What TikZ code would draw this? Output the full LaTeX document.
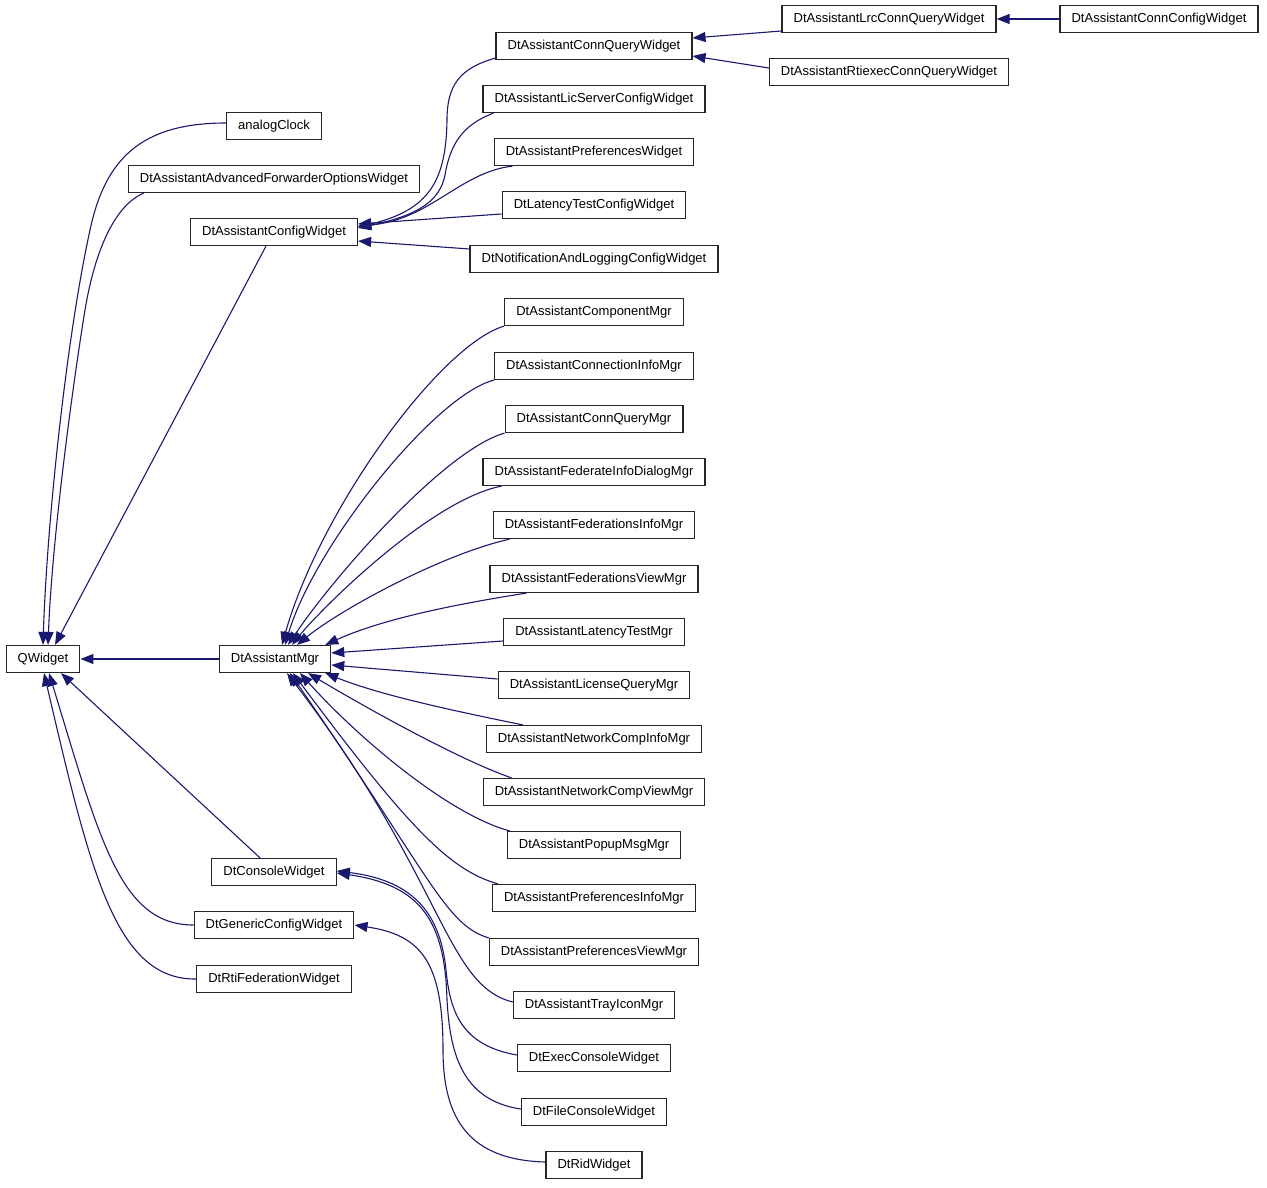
\documentclass[tikz,border=0pt]{standalone}
\usepackage{fontspec}
\setmainfont{Liberation Sans}
\usetikzlibrary{arrows.meta,calc}
\definecolor{edgeblue}{RGB}{25,25,112}
\tikzset{
   box/.style = {rectangle, draw=black!85, line width=0.6pt, fill=white,
      font=\fontsize{6.5}{8}\selectfont, inner xsep=5.8pt, inner ysep=0pt,
      minimum height=13.5pt, text height=4.8pt, text depth=1.4pt},
   arrow/.style = {-{Triangle[length=6.5pt,width=5pt]}, draw=edgeblue, line width=0.55pt},
}
\begin{document}
\begin{tikzpicture}[x=0.5pt,y=-0.5pt]
      \useasboundingbox (0,0) rectangle (1267,1187);

      % left column
      \node[box] (qwidget) at (43,659)  {QWidget};
      \node[box] (clock)   at (274,126) {analogClock};
      \node[box] (advfwd)  at (274,179) {DtAssistantAdvancedForwarderOptionsWidget};
      \node[box] (cfgw)    at (274,232) {DtAssistantConfigWidget};
      \node[box] (mgr)     at (275,659) {DtAssistantMgr};
      \node[box] (console) at (274,872) {DtConsoleWidget};
      \node[box] (generic) at (274,925) {DtGenericConfigWidget};
      \node[box] (rtifed)  at (274,979) {DtRtiFederationWidget};

      % right column
      \node[box] (connq)      at (594,46)   {DtAssistantConnQueryWidget};
      \node[box] (licsrv)     at (594,99)   {DtAssistantLicServerConfigWidget};
      \node[box] (prefw)      at (594,152)  {DtAssistantPreferencesWidget};
      \node[box] (latcfg)     at (594,205)  {DtLatencyTestConfigWidget};
      \node[box] (notif)      at (594,259)  {DtNotificationAndLoggingConfigWidget};
      \node[box] (compmgr)    at (594,312)  {DtAssistantComponentMgr};
      \node[box] (conninfo)   at (594,366)  {DtAssistantConnectionInfoMgr};
      \node[box] (connqmgr)   at (594,419)  {DtAssistantConnQueryMgr};
      \node[box] (fedinfodlg) at (594,472)  {DtAssistantFederateInfoDialogMgr};
      \node[box] (fedinfo)    at (594,525)  {DtAssistantFederationsInfoMgr};
      \node[box] (fedview)    at (594,579)  {DtAssistantFederationsViewMgr};
      \node[box] (latmgr)     at (594,632)  {DtAssistantLatencyTestMgr};
      \node[box] (licmgr)     at (594,685)  {DtAssistantLicenseQueryMgr};
      \node[box] (netinfo)    at (594,739)  {DtAssistantNetworkCompInfoMgr};
      \node[box] (netview)    at (594,792)  {DtAssistantNetworkCompViewMgr};
      \node[box] (popup)      at (594,845)  {DtAssistantPopupMsgMgr};
      \node[box] (prefinfo)   at (594,898)  {DtAssistantPreferencesInfoMgr};
      \node[box] (prefview)   at (594,952)  {DtAssistantPreferencesViewMgr};
      \node[box] (tray)       at (594,1005) {DtAssistantTrayIconMgr};
      \node[box] (execcon)    at (594,1058) {DtExecConsoleWidget};
      \node[box] (filecon)    at (594,1112) {DtFileConsoleWidget};
      \node[box] (rid)        at (594,1165) {DtRidWidget};

      % far right
      \node[box] (lrc)     at (889,19)  {DtAssistantLrcConnQueryWidget};
      \node[box] (rtiexec) at (889,72)  {DtAssistantRtiexecConnQueryWidget};
      \node[box] (conncfg) at (1159,19) {DtAssistantConnConfigWidget};

      % into QWidget
      \draw[arrow] ($(clock.west)+(0,-3)$) .. controls (140,123) and (105,160) .. (90,230)
                   .. controls (67,335) and (47,520) .. (qwidget.north);
      \draw[arrow] ($(advfwd.south west)+(16,0)$) .. controls (115,205) and (95,250) .. (85,310)
                   .. controls (72,390) and (52,540) .. ($(qwidget.north)+(5,0)$);
      \draw[arrow] ($(cfgw.south)+(-8,0)$) -- ($(qwidget.north)+(12,0)$);
      \draw[arrow] (mgr.west) -- (qwidget.east);
      \draw[arrow] ($(console.north)+(-14,0)$) -- ($(qwidget.south)+(18,0)$);
      \draw[arrow] (generic.west) .. controls (120,925) and (100,840) .. ($(qwidget.south)+(6,0)$);
      \draw[arrow] (rtifed.west) .. controls (115,980) and (90,870) .. ($(qwidget.south)+(1,0)$);

      % into DtAssistantConfigWidget
      \draw[arrow] ($(connq.south west)+(0,-2)$) .. controls (460,68) and (447,85) .. (447,120)
                   .. controls (446,180) and (430,210) .. ($(cfgw.east)+(0,-5)$);
      \draw[arrow] ($(licsrv.south west)+(11,0)$) .. controls (462,125) and (450,145) .. (445,175)
                   .. controls (440,200) and (420,215) .. ($(cfgw.east)+(0,-4)$);
      \draw[arrow] ($(prefw.south west)+(19,0)$) .. controls (460,172) and (430,220) .. ($(cfgw.east)+(0,-6)$);
      \draw[arrow] ($(latcfg.west)+(0,9)$) -- ($(cfgw.east)+(0,-8)$);
      \draw[arrow] ($(notif.west)+(0,-10)$) -- ($(cfgw.east)+(0,9)$);

      % into DtAssistantConnQueryWidget
      \draw[arrow] ($(lrc.west)+(0,12)$) -- ($(connq.east)+(0,-8)$);
      \draw[arrow] ($(rtiexec.west)+(0,-4)$) -- ($(connq.east)+(0,10)$);
      \draw[arrow] (conncfg.west) -- (lrc.east);

      % into DtAssistantMgr
      \draw[arrow] (compmgr.south west) .. controls (440,345) and (320,510) .. ($(mgr.north)+(7,0)$);
      \draw[arrow] (conninfo.south west) .. controls (435,395) and (315,545) .. ($(mgr.north)+(10,0)$);
      \draw[arrow] (connqmgr.south west) .. controls (445,450) and (335,575) .. ($(mgr.north)+(13,0)$);
      \draw[arrow] ($(fedinfodlg.south west)+(19,0)$) .. controls (430,500) and (320,610) .. ($(mgr.north)+(17,0)$);
      \draw[arrow] ($(fedinfo.south west)+(17,0)$) .. controls (440,555) and (340,610) .. ($(mgr.north)+(22,0)$);
      \draw[arrow] ($(fedview.south west)+(37,0)$) .. controls (450,605) and (380,620) .. ($(mgr.north east)+(-6,0)$);
      \draw[arrow] ($(latmgr.west)+(0,9)$) -- ($(mgr.east)+(0,-6)$);
      \draw[arrow] ($(licmgr.west)+(0,-6)$) -- ($(mgr.east)+(0,6)$);
      \draw[arrow] ($(netinfo.north west)+(37,0)$) .. controls (450,710) and (380,695) .. ($(mgr.south east)+(-6,0)$);
      \draw[arrow] ($(netview.north west)+(29,0)$) .. controls (460,760) and (370,710) .. ($(mgr.south)+(33,0)$);
      \draw[arrow] ($(popup.north west)+(3,0)$) .. controls (450,815) and (360,740) .. ($(mgr.south)+(25,0)$);
      \draw[arrow] ($(prefinfo.north west)+(6,0)$) .. controls (450,870) and (410,830) .. ($(mgr.south)+(18,0)$);
      \draw[arrow] (prefview.north west) .. controls (445,925) and (430,875) .. ($(mgr.south)+(15,0)$);
      \draw[arrow] ($(tray.west)+(0,-3)$) .. controls (445,985) and (445,880) .. ($(mgr.south)+(12,0)$);

      % into DtConsoleWidget and DtGenericConfigWidget
      \draw[arrow] ($(execcon.west)+(0,-3)$) .. controls (460,1045) and (450,1010) .. (446,970)
                   .. controls (440,910) and (410,880) .. ($(console.east)+(0,-1)$);
      \draw[arrow] ($(filecon.west)+(0,-3)$) .. controls (460,1100) and (450,1050) .. (447,1000)
                   .. controls (445,920) and (420,885) .. ($(console.east)+(0,1)$);
      \draw[arrow] ($(rid.west)+(0,-3)$) .. controls (470,1160) and (443,1120) .. (443,1050)
                   .. controls (443,960) and (420,935) .. (generic.east);

\end{tikzpicture}
\end{document}
